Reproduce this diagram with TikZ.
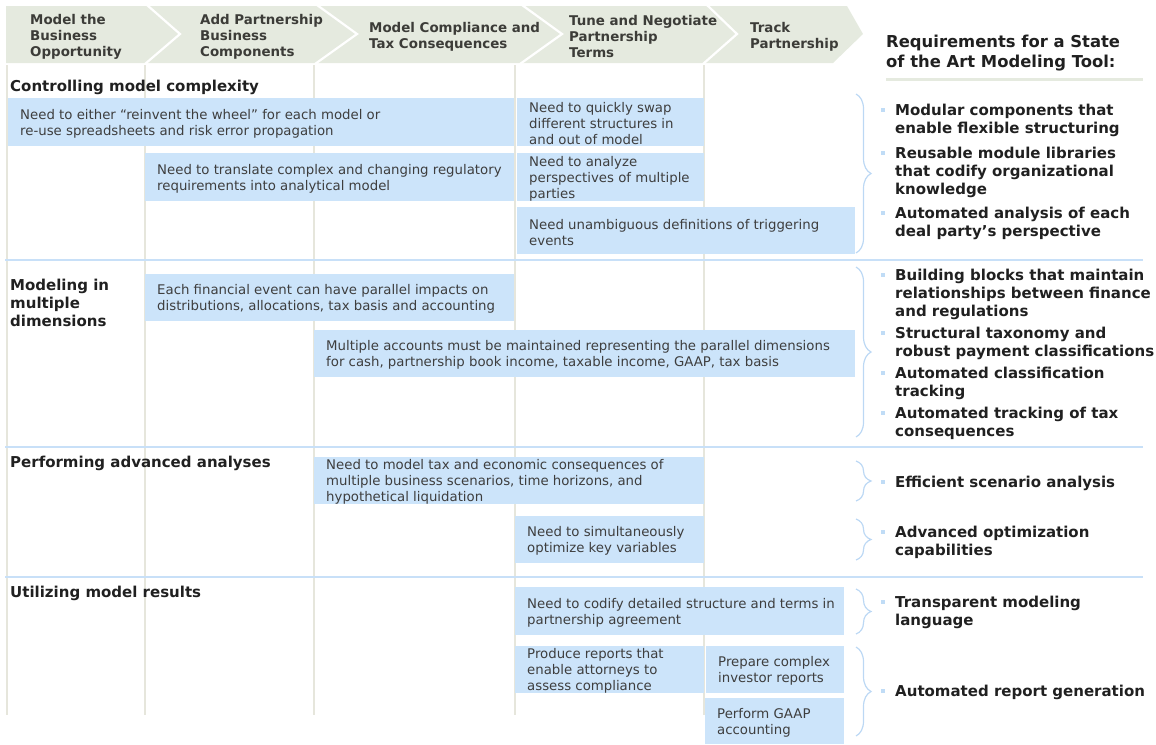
\documentclass[tikz,border=0pt]{standalone}
\usepackage{fontspec}
\setmainfont{DejaVu Sans}
\usetikzlibrary{decorations.pathreplacing}

\definecolor{bandfill}{RGB}{229,234,223}
\definecolor{boxblue}{RGB}{204,228,250}
\definecolor{rowline}{RGB}{200,224,248}
\definecolor{colline}{RGB}{230,230,220}
\definecolor{bodytext}{RGB}{62,62,62}
\definecolor{headtext}{RGB}{60,60,56}
\definecolor{darktext}{RGB}{32,32,32}
\definecolor{bracecol}{RGB}{188,216,244}
\definecolor{bulcol}{RGB}{192,220,246}

% box with a left-aligned, vertically centred text: name, x, y, width, height, text
\newcommand\needbox[6]{%
  \node[needbox, minimum width=#4pt, minimum height=#5pt] (#1) at (#2,#3) {};
  \node[needtext] (#1-text) at ([xshift=12pt]#1.west) {#6};}

% bullet square plus bold text: name, y of first line, y of text centre, text
\newcommand\reqitem[4]{%
  \node[bulsq] (#1-sq) at (883,#2) {};
  \node[reqtext] (#1) at (895,#3) {#4};}

\begin{document}
\begin{tikzpicture}[x=1pt,y=-1pt,
  needbox/.style={fill=boxblue, inner sep=0pt, outer sep=0pt, anchor=north west},
  needtext/.style={anchor=west, align=left, inner sep=0pt, text=bodytext,
    yshift=-1.8pt, font=\fontsize{13.3}{16}\selectfont},
  headtext/.style={anchor=west, align=left, inner sep=0pt, text=headtext,
    yshift=-1.8pt, font=\fontsize{13.4}{16}\selectfont\bfseries},
  sectitle/.style={anchor=west, align=left, inner sep=0pt, text=darktext,
    yshift=-1.8pt, font=\fontsize{15}{18}\selectfont\bfseries},
  reqtext/.style={anchor=west, align=left, inner sep=0pt, text=darktext,
    yshift=-1.8pt, font=\fontsize{15}{18}\selectfont\bfseries},
  bulsq/.style={fill=bulcol, minimum size=4.5pt, inner sep=0pt, outer sep=0pt},
  reqbrace/.style={draw=bracecol, line width=1.2pt, decorate,
    decoration={brace, amplitude=15pt}},
  colrule/.style={draw=colline, line width=1.6pt},
  rowrule/.style={draw=rowline, line width=2pt},
  chevsep/.style={draw=white, line width=2.2pt}
]
\useasboundingbox (0,0) rectangle (1156,744);

% ---- process chevrons ----
\fill[bandfill] (6,6) -- (847,6) -- (863,34) -- (833,63) -- (6,63) -- cycle;
\draw[chevsep] (147,5) -- (180,34) -- (145,64);
\draw[chevsep] (317,5) -- (357,34) -- (315,64);
\draw[chevsep] (522,5) -- (562,34) -- (520,64);
\draw[chevsep] (707,5) -- (737,34) -- (703,64);

\node[headtext] (h1) at (30,35) {Model the\\Business\\Opportunity};
\node[headtext] (h2) at (200,35) {Add Partnership\\Business\\Components};
\node[headtext] (h3) at (369,35) {Model Compliance and\\Tax Consequences};
\node[headtext] (h4) at (569,35) {Tune and Negotiate\\Partnership\\Terms};
\node[headtext] (h5) at (750,35) {Track\\Partnership};

% ---- requirements heading ----
\node[anchor=west, align=left, inner sep=0pt, text=darktext, yshift=-1.8pt,
  font=\fontsize{16.4}{20}\selectfont\bfseries] (reqhead) at (886,51)
  {Requirements for a State\\of the Art Modeling Tool:};
\coordinate (ul-a) at (886,79);
\coordinate (ul-b) at (1143,79);
\draw[draw=bandfill, line width=3pt] (ul-a) -- (ul-b);

% ---- grid ----
\foreach \cx in {7,145,314,515,704}
  \draw[colrule] (\cx,65) -- (\cx,715);
\foreach \ry in {260,447,577}
  \draw[rowrule] (5,\ry) -- (1143,\ry);

% ---- section 1 ----
\node[sectitle] (s1) at (10,86) {Controlling model complexity};
\needbox{bA}{8}{98}{506}{48}{Need to either “reinvent the wheel” for each model or\\re-use spreadsheets and risk error propagation}
\needbox{bB}{517}{98}{187}{48}{Need to quickly swap\\different structures in\\and out of model}
\needbox{bC}{145}{153}{369}{48}{Need to translate complex and changing regulatory\\requirements into analytical model}
\needbox{bD}{517}{153}{187}{48}{Need to analyze\\perspectives of multiple\\parties}
\needbox{bE}{517}{207}{338}{47}{Need unambiguous definitions of triggering\\events}

\draw[reqbrace] (856,94) -- (856,253);
\reqitem{r1}{110}{119}{Modular components that\\enable flexible structuring}
\reqitem{r2}{153}{171}{Reusable module libraries\\that codify organizational\\knowledge}
\reqitem{r3}{213}{222}{Automated analysis of each\\deal party’s perspective}

% ---- section 2 ----
\node[sectitle] (s2) at (10,301) {Modeling in\\multiple\\dimensions};
\needbox{bF}{145}{274}{369}{47}{Each financial event can have parallel impacts on\\distributions, allocations, tax basis and accounting}
\needbox{bG}{314}{330}{541}{47}{Multiple accounts must be maintained representing the parallel dimensions\\for cash, partnership book income, taxable income, GAAP, tax basis}

\draw[reqbrace] (856,267) -- (856,437);
\reqitem{r4}{275}{293}{Building blocks that maintain\\relationships between finance\\and regulations}
\reqitem{r5}{333}{342}{Structural taxonomy and\\robust payment classifications}
\reqitem{r6}{373}{382}{Automated classification\\tracking}
\reqitem{r7}{413}{422}{Automated tracking of tax\\consequences}

% ---- section 3 ----
\node[sectitle] (s3) at (10,462) {Performing advanced analyses};
\needbox{bH}{314}{457}{390}{47}{Need to model tax and economic consequences of\\multiple business scenarios, time horizons, and\\hypothetical liquidation}
\needbox{bI}{515}{516}{189}{47}{Need to simultaneously\\optimize key variables}

\draw[reqbrace] (856,461) -- (856,501);
\reqitem{r8}{482}{482}{Efficient scenario analysis}
\draw[reqbrace] (856,519) -- (856,560);
\reqitem{r9}{532}{541}{Advanced optimization\\capabilities}

% ---- section 4 ----
\node[sectitle] (s4) at (10,592) {Utilizing model results};
\needbox{bJ}{515}{587}{329}{48}{Need to codify detailed structure and terms in\\partnership agreement}
\needbox{bK}{515}{646}{189}{47}{Produce reports that\\enable attorneys to\\assess compliance}
\needbox{bL}{706}{646}{138}{47}{Prepare complex\\investor reports}
\needbox{bM}{705}{698}{139}{46}{Perform GAAP\\accounting}

\draw[reqbrace] (856,589) -- (856,634);
\reqitem{r10}{602}{611}{Transparent modeling\\language}
\draw[reqbrace] (856,647) -- (856,736);
\reqitem{r11}{691}{691}{Automated report generation}

\end{tikzpicture}
\end{document}
